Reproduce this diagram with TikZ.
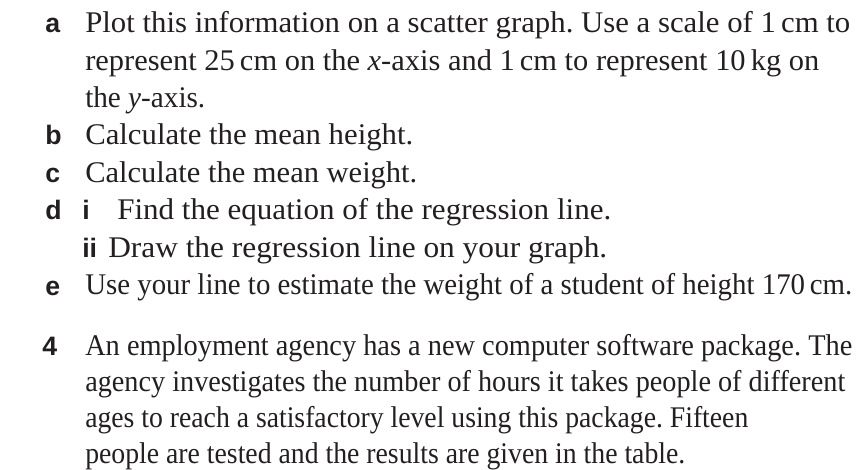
\documentclass[tikz,border=0pt]{standalone}
\usepackage{fontspec}
\usepackage{graphicx}
\setmainfont{Liberation Serif}
\newfontfamily\labelfont{Liberation Sans}
\definecolor{ink}{HTML}{231F20}
\frenchspacing
% set a line of text to a given measure (in pt), keeping its height
\newcommand\setline[2]{\resizebox{#1pt}{\height}{#2}}
\begin{document}
\begin{tikzpicture}[x=0.75pt,y=-0.75pt,
  txt/.style={anchor=base west,inner sep=0pt,text=ink,font=\fontsize{22.5}{27}\selectfont},
  lbl/.style={anchor=base west,inner sep=0pt,text=ink,font=\labelfont\bfseries\fontsize{20}{23}\selectfont}]
\useasboundingbox (0,0) rectangle (856,470);
% part a
\node[lbl] (la) at (45,33) {a};
\node[txt] (a1) at (85,33) {\setline{573.75}{Plot this information on a scatter graph. Use a scale of 1\,cm to}};
\node[txt] (a2) at (85,70.5) {\setline{550.5}{represent 25\,cm on the \textit{x}-axis and 1\,cm to represent 10\,kg on}};
\node[txt] (a3) at (85,108) {\setline{90}{the \textit{y}-axis.}};
% parts b to e
\node[lbl] (lb) at (45,145) {b};
\node[txt] (b1) at (85,145) {\setline{246}{Calculate the mean height.}};
\node[lbl] (lc) at (45,183) {c};
\node[txt] (c1) at (85,183) {\setline{249}{Calculate the mean weight.}};
\node[lbl] (ld) at (45,220) {d};
\node[lbl] (ldi) at (82,220) {i};
\node[txt] (d1) at (117,220) {\setline{370.5}{Find the equation of the regression line.}};
\node[lbl] (ldii) at (82,257.5) {ii};
\node[txt] (d2) at (108,257.5) {\setline{374.25}{Draw the regression line on your graph.}};
\node[lbl] (le) at (45,295) {e};
\node[txt] (e1) at (85,295) {\setline{575.25}{Use your line to estimate the weight of a student of height 170\,cm.}};
% question 4
\node[lbl] (l4) at (42,355) {4};
\node[txt] (q1) at (85,355) {\setline{575.25}{An employment agency has a new computer software package. The}};
\node[txt] (q2) at (85,391) {\setline{570}{agency investigates the number of hours it takes people of different}};
\node[txt] (q3) at (85,427) {\setline{497.25}{ages to reach a satisfactory level using this package. Fifteen}};
\node[txt] (q4) at (85,463) {\setline{450}{people are tested and the results are given in the table.}};
\end{tikzpicture}
\end{document}
